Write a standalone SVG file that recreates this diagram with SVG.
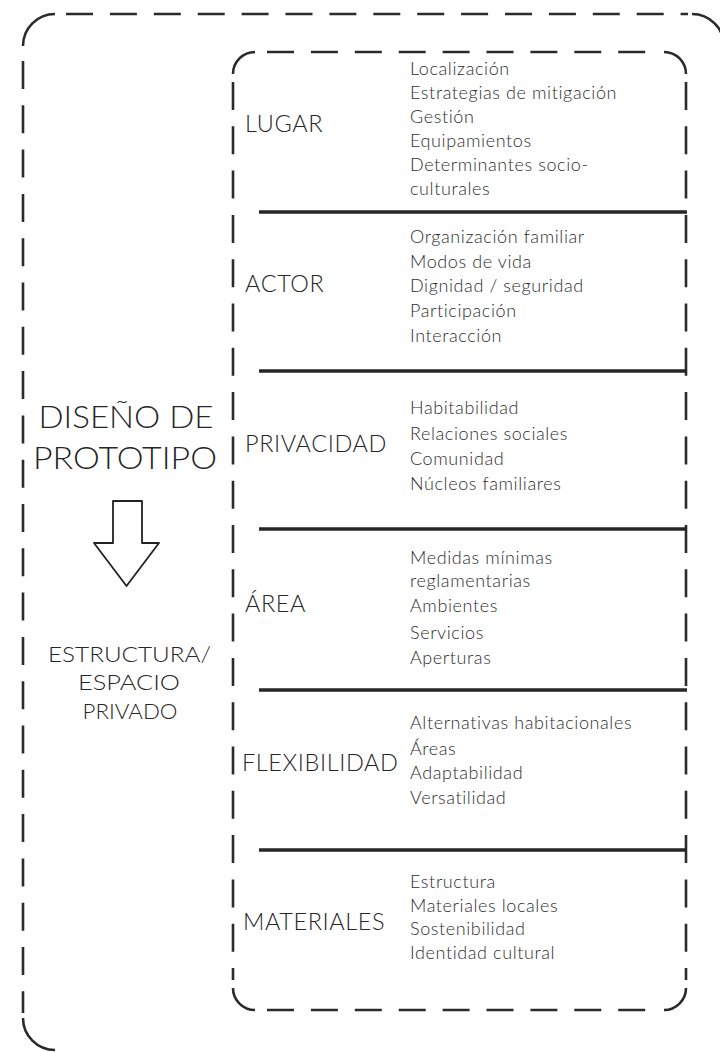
<svg xmlns="http://www.w3.org/2000/svg" width="720" height="1052" viewBox="0 0 720 1052">
<style>
.frame{fill:none;stroke:#2b2b2b;stroke-width:2.6;stroke-linecap:butt}
.dv{stroke-dasharray:28 16.3}
.dh{stroke-dasharray:27 16.9}
.div{stroke:#262626;stroke-width:3.6;fill:none}
.lbl{font-family:Lato,"Liberation Sans",sans-serif;font-weight:300;font-size:23.5px;letter-spacing:0.6px;fill:#262626}
.itm{font-family:Lato,"Liberation Sans",sans-serif;font-weight:300;font-size:18px;letter-spacing:0.6px;fill:#2e2e2e}
.big{font-family:Lato,"Liberation Sans",sans-serif;font-weight:300;font-size:32px;fill:#262626;text-anchor:middle}
.sub{font-family:Lato,"Liberation Sans",sans-serif;font-weight:300;font-size:21px;fill:#262626;text-anchor:middle}
</style>
<rect width="720" height="1052" fill="#fff"/>
<g id="outer-frame">
  <path class="frame" d="M23,46 A32,32 0 0 1 55,14"/>
  <path class="frame" d="M692,14 A32,32 0 0 1 724,46"/>
  <path class="frame" d="M23,1018 A32,32 0 0 0 55,1050"/>
  <line class="frame dh" x1="66" y1="14" x2="688" y2="14"/>
  <line class="frame dv" x1="23" y1="61" x2="23" y2="1013"/>
</g>
<g id="inner-frame">
  <path class="frame" d="M233,74 A22,22 0 0 1 255,52"/>
  <path class="frame" d="M664,52 A22,22 0 0 1 686,74"/>
  <path class="frame" d="M686,988 A22,22 0 0 1 664,1010"/>
  <path class="frame" d="M255,1010 A22,22 0 0 1 233,988"/>
  <line class="frame dh" x1="267" y1="52" x2="655" y2="52"/>
  <line class="frame dh" x1="267" y1="1010" x2="650" y2="1010"/>
  <line class="frame dv" x1="233" y1="82" x2="233" y2="980"/>
  <line class="frame dv" x1="686" y1="82" x2="686" y2="980"/>
</g>
<g id="connectors">
  <line class="div" x1="259" y1="212" x2="687" y2="212"/>
  <line class="div" x1="259" y1="371" x2="687" y2="371"/>
  <line class="div" x1="259" y1="529" x2="687" y2="529"/>
  <line class="div" x1="259" y1="690" x2="687" y2="690"/>
  <line class="div" x1="259" y1="850" x2="687" y2="850"/>
</g>
<g id="main-title">
  <text class="big" x="126" y="428" textLength="175" lengthAdjust="spacingAndGlyphs">DISEÑO DE</text>
  <text class="big" x="125" y="469" textLength="184" lengthAdjust="spacingAndGlyphs">PROTOTIPO</text>
</g>
<g id="arrow">
  <path d="M113,501 H142 V543 H159 L126.5,586 L94,543 H113 Z" fill="none" stroke="#222" stroke-width="1.8" stroke-linejoin="round"/>
</g>
<g id="result">
  <text class="sub" x="129.5" y="662" textLength="163" lengthAdjust="spacingAndGlyphs">ESTRUCTURA/</text>
  <text class="sub" x="129" y="690" textLength="102" lengthAdjust="spacingAndGlyphs">ESPACIO</text>
  <text class="sub" x="130" y="719" textLength="95" lengthAdjust="spacingAndGlyphs">PRIVADO</text>
</g>
<g id="lugar">
  <text class="lbl" x="245" y="132">LUGAR</text>
  <text class="itm" x="410" y="75">Localización</text>
  <text class="itm" x="410" y="99">Estrategias de mitigación</text>
  <text class="itm" x="410" y="123">Gestión</text>
  <text class="itm" x="410" y="147">Equipamientos</text>
  <text class="itm" x="410" y="171">Determinantes socio-</text>
  <text class="itm" x="410" y="195">culturales</text>
</g>
<g id="actor">
  <text class="lbl" x="245" y="292">ACTOR</text>
  <text class="itm" x="410" y="243">Organización familiar</text>
  <text class="itm" x="410" y="268">Modos de vida</text>
  <text class="itm" x="410" y="292">Dignidad / seguridad</text>
  <text class="itm" x="410" y="317">Participación</text>
  <text class="itm" x="410" y="342">Interacción</text>
</g>
<g id="privacidad">
  <text class="lbl" x="245" y="452">PRIVACIDAD</text>
  <text class="itm" x="410" y="414">Habitabilidad</text>
  <text class="itm" x="410" y="440">Relaciones sociales</text>
  <text class="itm" x="410" y="465">Comunidad</text>
  <text class="itm" x="410" y="490">Núcleos familiares</text>
</g>
<g id="area">
  <text class="lbl" x="245" y="612">ÁREA</text>
  <text class="itm" x="410" y="564">Medidas mínimas</text>
  <text class="itm" x="410" y="587">reglamentarias</text>
  <text class="itm" x="410" y="612">Ambientes</text>
  <text class="itm" x="410" y="639">Servicios</text>
  <text class="itm" x="410" y="664">Aperturas</text>
</g>
<g id="flexibilidad">
  <text class="lbl" x="242" y="771">FLEXIBILIDAD</text>
  <text class="itm" x="410" y="729">Alternativas habitacionales</text>
  <text class="itm" x="410" y="755">Áreas</text>
  <text class="itm" x="410" y="779">Adaptabilidad</text>
  <text class="itm" x="410" y="804">Versatilidad</text>
</g>
<g id="materiales">
  <text class="lbl" x="243" y="930">MATERIALES</text>
  <text class="itm" x="410" y="888">Estructura</text>
  <text class="itm" x="410" y="912">Materiales locales</text>
  <text class="itm" x="410" y="935">Sostenibilidad</text>
  <text class="itm" x="410" y="959">Identidad cultural</text>
</g>
</svg>
